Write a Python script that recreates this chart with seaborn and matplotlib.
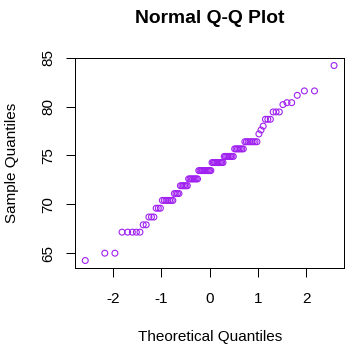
import statistics
import numpy as np
import pandas as pd
import seaborn as sns
import matplotlib
matplotlib.use('Agg')
import matplotlib.pyplot as plt

# sorted sample values (100 points)
levels = [64.25, 65.0, 67.15, 67.9, 68.7, 69.6, 70.4, 71.1, 71.9, 72.6,
          73.45, 74.27, 74.9, 75.67, 76.4, 77.2, 77.6, 78.0, 78.7, 79.45,
          80.2, 80.4, 81.15, 81.6, 84.2]
counts = [1, 2, 5, 2, 3, 3, 7, 4, 6, 8,
          11, 10, 8, 7, 8, 1, 1, 1, 3, 3,
          1, 2, 1, 2, 1]
x_ticks = [-2, -1, 0, 1, 2]
y_ticks = [65, 70, 75, 80, 85]

sample = np.repeat(levels, counts)
n = len(sample)
# theoretical quantiles like R's ppoints for n > 10
nd = statistics.NormalDist()
theo = [nd.inv_cdf((i - 0.5) / n) for i in range(1, n + 1)]
df = pd.DataFrame({'theoretical': theo, 'sample': sample})

plt.rcParams['font.family'] = ['Liberation Sans', 'DejaVu Sans']
plt.rcParams['axes.unicode_minus'] = False

W, H = 351, 355
fig = plt.figure(figsize=(W / 100, H / 100), dpi=100)
left, right, top, bottom = 75.3, 344, 57.7, 268.3
ax = fig.add_axes([left / W, 1 - bottom / H, (right - left) / W, (bottom - top) / H])

sns.scatterplot(data=df, x='theoretical', y='sample', ax=ax,
                marker='o', s=18, facecolors='none', edgecolor='#A020F0',
                linewidth=0.8)

# R style 4% padding
xr = max(theo) - min(theo)
ax.set_xlim(min(theo) - 0.04 * xr, max(theo) + 0.04 * xr)
yr = sample.max() - sample.min()
ax.set_ylim(sample.min() - 0.04 * yr, sample.max() + 0.04 * yr)

fs = 11
ax.set_xticks(x_ticks)
ax.set_yticks(y_ticks)
ax.set_xticklabels([str(t) for t in x_ticks])
ax.set_yticklabels([str(t) for t in y_ticks], rotation=90, va='center')
ax.tick_params(axis='both', length=6.5, width=0.72, labelsize=fs, color='black')
ax.tick_params(axis='x', pad=10.5)
ax.tick_params(axis='y', pad=8.1)
for sp in ax.spines.values():
    sp.set_linewidth(0.72)
    sp.set_color('black')

ax.set_xlabel('Theoretical Quantiles', fontsize=fs)
ax.set_ylabel('Sample Quantiles', fontsize=fs)
ax.xaxis.set_label_coords(0.5, (bottom - 337.3) / (bottom - top))
ax.xaxis.label.set_va('center')
ax.yaxis.set_label_coords((11.7 - left) / (right - left), 0.5)
ax.yaxis.label.set_va('center')

fig.text((left + right) / 2 / W, 1 - 18.5 / H, 'Normal Q-Q Plot',
         ha='center', va='center', fontsize=13.9, fontweight='bold')

fig.savefig('out.png', dpi=100)
